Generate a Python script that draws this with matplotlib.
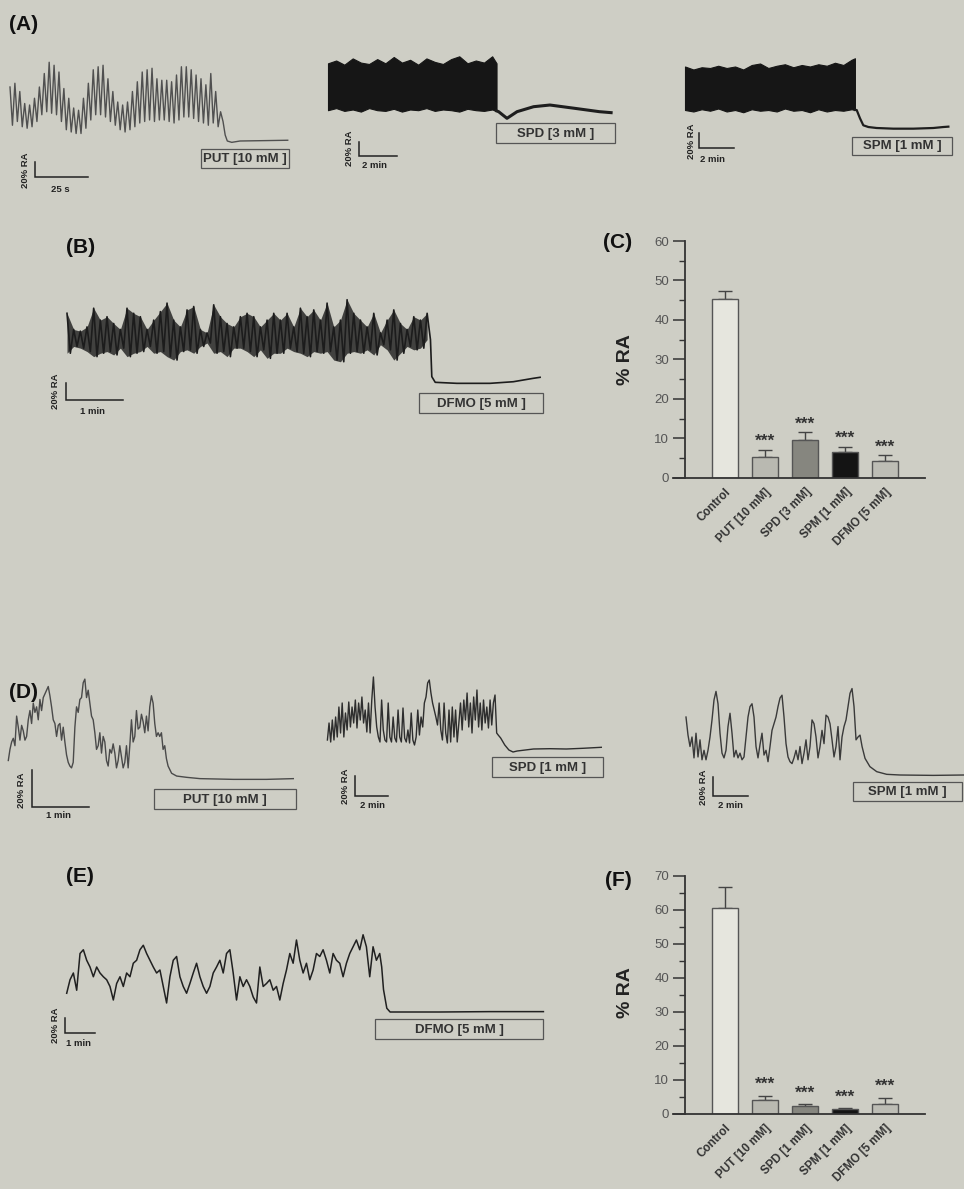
import numpy as np
import matplotlib
matplotlib.use('Agg')
import matplotlib.pyplot as plt
from matplotlib.patches import Rectangle

plt.rcParams['font.family'] = ['Liberation Sans', 'DejaVu Sans']

W, H = 964, 1189
BG = '#cecec5'

# ---------------- data ----------------
# (A) PUT 10 mM : oscillation peaks / troughs (% RA), one pair per cycle, 25 s scale
a1_step = 2.31  # s per cycle
a1_top = [72, 77, 66, 50, 48, 57, 72, 90, 105, 101, 92, 70, 57, 44, 41, 57, 77, 95, 99, 101,
          83, 66, 52, 48, 52, 66, 79, 92, 95, 97, 83, 81, 81, 79, 88, 99, 99, 95, 88, 83,
          75, 90, 66, 39]
a1_bot = [21, 26, 19, 17, 19, 26, 35, 39, 37, 35, 26, 15, 12, 10, 10, 17, 28, 35, 35, 32,
          26, 21, 15, 12, 15, 19, 24, 26, 28, 26, 28, 28, 26, 24, 28, 32, 32, 30, 26, 24,
          21, 24, 19, 26]
a1_tail_t = [101.5, 102.5, 104.6, 108.5, 120, 131]
a1_tail = [8, 0, -1.8, 0, 0.5, 1]

# (A) SPD 3 mM : envelope of the dense block (% RA), min
a2_env_t = [0, 0.43, 0.86, 1.30, 1.73, 2.16, 2.59, 3.02, 3.46, 3.89, 4.32, 4.75, 5.18,
            5.62, 6.05, 6.48, 6.91, 7.34, 7.78, 8.21, 8.64, 8.87]
a2_top = [71, 75, 69, 78, 72, 70, 77, 71, 80, 72, 76, 69, 78, 73, 70, 77, 81, 71, 75, 72, 81, 71]
a2_bot = [4, 7, 3, 5, 2, 7, 4, 3, 6, 2, 5, 4, 7, 3, 5, 4, 2, 6, 4, 3, 5, 3]
a2_tail_t = [8.98, 9.42, 9.95, 10.82, 11.68, 12.98, 14.28, 14.9]
a2_tail = [1.9, -7.6, 1.9, 9, 11.4, 6.7, 1.9, 0.5]

# (A) SPM 1 mM
a3_env_t = [0, 0.48, 0.95, 1.43, 1.90, 2.38, 2.86, 3.33, 3.81, 4.29, 4.76, 5.24, 5.71,
            6.19, 6.67, 7.14, 7.62, 8.10, 8.57, 9.05, 9.52, 9.71]
a3_top = [82, 78, 81, 80, 83, 80, 82, 78, 84, 86, 80, 83, 85, 81, 84, 82, 85, 83, 87, 84, 91, 93]
a3_bot = [24, 22, 25, 23, 26, 22, 24, 21, 25, 23, 24, 22, 26, 23, 24, 21, 25, 22, 24, 23, 25, 24]
a3_tail_t = [9.81, 10.0, 10.19, 10.48, 10.95, 11.9, 13.05, 14.19, 14.76, 15.05]
a3_tail = [24, 12.9, 3.6, 1.3, 0, -0.9, -0.9, 0, 1.3, 1.8]

# (B) DFMO 5 mM : spike tops / bottoms every 0.117 min
b_step = 0.117
b_top = [82, 63, 61, 66, 88, 74, 78, 70, 63, 88, 82, 78, 63, 74, 84, 94, 74, 66, 86, 90,
         63, 59, 92, 78, 70, 66, 78, 82, 78, 66, 74, 82, 74, 82, 66, 88, 78, 86, 74, 94,
         66, 74, 98, 82, 74, 66, 82, 59, 74, 86, 70, 63, 78, 74, 82]
b_bot = [35, 43, 41, 37, 31, 35, 37, 33, 41, 31, 35, 37, 43, 35, 37, 31, 27, 37, 39, 35,
         43, 47, 35, 37, 31, 41, 41, 37, 31, 39, 29, 35, 35, 41, 37, 35, 31, 37, 35, 37,
         27, 25, 35, 37, 35, 39, 33, 45, 39, 27, 35, 43, 39, 41, 51]
b_tail_t = [6.40, 6.46, 6.84, 7.42, 7.83, 8.18, 8.30]
b_tail = [7.5, 0.8, -0.4, -0.4, 1.5, 5.5, 6.7]

# (C) bar chart
cats_c = ['Control', 'PUT [10 mM]', 'SPD [3 mM]', 'SPM [1 mM]', 'DFMO [5 mM]']
mean_c = [45.3, 5.3, 9.5, 6.6, 4.3]
sem_c = [1.9, 1.7, 2.0, 1.2, 1.4]
sig_c = ['', '***', '***', '***', '***']

# (D) PUT 10 mM, samples every 0.0292 min
d1_step = 0.0292
d1 = [10, 16, 20, 22, 18, 34, 28, 21, 29, 26, 21, 23, 32, 37, 30, 41, 36, 39, 32, 43,
      37, 44, 46, 48, 50, 45, 39, 32, 30, 23, 29, 30, 21, 28, 20, 13, 9, 7, 6, 9,
      28, 39, 36, 43, 44, 52, 54, 44, 48, 41, 34, 32, 25, 16, 18, 25, 14, 23, 20, 10,
      7, 16, 14, 19, 14, 6, 10, 18, 12, 6, 9, 18, 6, 18, 32, 20, 23, 37, 27, 28,
      35, 31, 25, 34, 26, 39, 45, 41, 30, 23, 25, 23, 25, 16, 18, 11, 7]
d1_tail_t = [2.865, 2.953, 3.129, 3.363, 3.947, 4.532, 5.0]
d1_tail = [3.1, 1.6, 0.9, 0.2, -0.2, -0.2, 0.2]

# (D) SPD 1 mM, samples every 0.0996 min
d2_step = 0.0996
d2 = [9, 26, 7, 29, 9, 32, 12, 42, 16, 46, 12, 36, 19, 47, 22, 42, 26, 49, 21, 46,
      29, 52, 26, 39, 17, 46, 16, 49, 72, 42, 22, 12, 7, 49, 19, 9, 7, 46, 12, 7,
      32, 11, 7, 39, 12, 7, 41, 11, 7, 19, 6, 36, 9, 4, 12, 39, 14, 32, 22, 46,
      52, 66, 69, 56, 46, 39, 32, 24, 46, 19, 9, 46, 16, 6, 39, 7, 42, 12, 39, 7,
      26, 46, 19, 49, 29, 56, 22, 46, 16, 52, 29, 59, 22, 46, 19, 49, 26, 42, 21, 49,
      24, 46, 54, 16]
d2_tail_t = [10.35, 10.50, 10.75, 11.0, 11.25, 11.5, 12.49, 13.49, 14.48, 15.48, 16.6]
d2_tail = [14, 11, 4, -1, -3, -2, 0, 0.3, 0, 0.7, 1.7]

# (D) SPM 1 mM, samples every 0.1143 min
d3_step = 0.1143
d3 = [61, 42, 30, 40, 18, 44, 19, 37, 16, 26, 16, 26, 40, 58, 79, 88, 75, 44, 23, 18,
      26, 51, 65, 44, 19, 26, 18, 23, 16, 19, 40, 61, 72, 75, 61, 30, 18, 32, 44, 21,
      26, 14, 30, 47, 54, 61, 72, 81, 84, 61, 33, 19, 14, 12, 18, 26, 16, 30, 12, 23,
      37, 16, 30, 58, 54, 40, 18, 30, 47, 33, 63, 61, 54, 37, 19, 30, 51, 16, 40, 51,
      58, 72, 86, 91, 72, 37, 40, 42]
d3_tail_t = [10.06, 10.23, 10.51, 10.9, 11.47, 12.23, 14.13, 15.89]
d3_tail = [30, 17.5, 8.8, 3.5, 0.7, 0, -0.4, 0]

# (E) DFMO 5 mM, samples every 0.111 min
e_step = 0.111
e = [25, 43, 52, 29, 78, 83, 69, 60, 47, 60, 52, 47, 43, 34, 16, 38, 47, 34, 52, 47,
     65, 69, 83, 89, 78, 69, 60, 52, 56, 34, 12, 47, 69, 74, 47, 34, 25, 38, 52, 65,
     47, 34, 25, 34, 52, 60, 69, 52, 78, 83, 52, 16, 47, 34, 43, 34, 20, 12, 60, 34,
     38, 43, 29, 34, 16, 38, 56, 78, 65, 96, 69, 52, 65, 43, 56, 78, 74, 83, 69, 52,
     78, 69, 65, 47, 65, 78, 87, 96, 83, 103, 87, 47, 87, 69, 78]
e_tail_t = [10.5, 10.56, 10.67, 10.78, 11.33, 12.44, 14.11, 15.89]
e_tail = [60, 30, 5, 0, 0, 0, 0.5, 0.5]

# (F) bar chart
cats_f = ['Control', 'PUT [10 mM]', 'SPD [1 mM]', 'SPM [1 mM]', 'DFMO [5 mM]']
mean_f = [60.5, 4.2, 2.35, 1.5, 3.0]
sem_f = [6.4, 1.2, 0.45, 0.2, 1.8]
sig_f = ['', '***', '***', '***', '***']

bar_colors = ['#e6e6de', '#b9b9b1', '#86867f', '#141414', '#bdbdb5']

# ---------------- figure ----------------
fig = plt.figure(figsize=(W / 100, H / 100), dpi=100, facecolor=BG)


def fpos(x, y):
    return x / W, 1 - y / H


def trace_axes(box, x0, tpx, y0, rpx):
    l, t, r, b = box
    ax = fig.add_axes([l / W, 1 - b / H, (r - l) / W, (b - t) / H])
    ax.set_xlim((l - x0) / tpx, (r - x0) / tpx)
    ax.set_ylim((y0 - b) / rpx, (y0 - t) / rpx)
    ax.axis('off')
    ax.patch.set_alpha(0)
    return ax


def zigzag(t, top, bot, step):
    t = np.asarray(t, float)
    tz = np.column_stack([t, t + step / 2]).ravel()
    yz = np.column_stack([top, bot]).ravel()
    return tz, yz


def scale_bar(ax, corner, x0, tpx, y0, rpx, tlen, tlabel, lab_ra, lab_t, fs=6.8):
    tb = (corner[0] - x0) / tpx
    rb = (y0 - corner[1]) / rpx
    ax.plot([tb, tb, tb + tlen], [rb + 20, rb, rb], color='#222', lw=1.1,
            clip_on=False, solid_joinstyle='miter')
    fig.text(*fpos(*lab_ra), '20% RA', rotation=90, ha='center', va='center',
             fontsize=fs, fontweight='bold', color='#222')
    fig.text(*fpos(*lab_t), tlabel, ha='center', va='center',
             fontsize=fs, fontweight='bold', color='#222')


def drug_box(l, t, r, b, label, fs=9.5):
    fig.patches.append(Rectangle((l / W, 1 - b / H), (r - l) / W, (b - t) / H,
                                 transform=fig.transFigure, fill=False,
                                 ec='#555', lw=0.9))
    fig.text(*fpos((l + r) / 2, (t + b) / 2 + 0.5), label, ha='center', va='center',
             fontsize=fs, fontweight='bold', color='#333')


def panel_label(x, y, s):
    fig.text(*fpos(x, y), s, ha='left', va='center', fontsize=15,
             fontweight='bold', color='#111')


# ---- (A) PUT
m = (10, 2.12, 141, 0.75)
ax = trace_axes((5, 50, 300, 185), *m)
t_zz, y_zz = zigzag(np.arange(len(a1_top)) * a1_step, a1_top, a1_bot, a1_step)
ax.plot(np.r_[t_zz, a1_tail_t], np.r_[y_zz, a1_tail], color='#505050', lw=1.0,
        clip_on=False)
scale_bar(ax, (35, 177), *m, 25, '25 s', (25, 170), (60, 189))
drug_box(201, 149, 289, 168, 'PUT [10 mM ]')

# ---- (A) SPD 3 mM
m = (328, 19, 113, 0.7)
ax = trace_axes((320, 40, 620, 170), *m)
ax.fill_between(a2_env_t, a2_bot, a2_top, color='#161616', lw=0.8, ec='#161616')
ax.plot(np.r_[a2_env_t[-1], a2_tail_t], np.r_[a2_bot[-1], a2_tail], color='#1e1e1e',
        lw=2.2, clip_on=False)
scale_bar(ax, (359, 156), *m, 2, '2 min', (349, 148), (375, 165))
drug_box(496, 123, 615, 143, 'SPD [3 mM ]')

# ---- (A) SPM 1 mM
m = (685, 17.5, 128, 0.75)
ax = trace_axes((640, 40, 960, 170), *m)
ax.fill_between(a3_env_t, a3_bot, a3_top, color='#161616', lw=0.8, ec='#161616')
ax.plot(np.r_[a3_env_t[-1], a3_tail_t], np.r_[a3_bot[-1], a3_tail], color='#1e1e1e',
        lw=1.6, clip_on=False)
scale_bar(ax, (699, 148), *m, 2, '2 min', (691, 141), (713, 159))
drug_box(852, 137, 952, 155, 'SPM [1 mM ]')

# ---- (B) DFMO
m = (67, 57, 383, 0.85)
ax = trace_axes((50, 260, 560, 420), *m)
tb_ = np.arange(len(b_top)) * b_step
ax.fill_between(tb_, b_bot, b_top, color='#1e1e1e', alpha=0.8, lw=0)
t_zz, y_zz = zigzag(tb_, b_top, b_bot, b_step)
ax.plot(np.r_[t_zz, b_tail_t], np.r_[y_zz, b_tail], color='#1c1c1c', lw=1.2,
        clip_on=False)
scale_bar(ax, (66, 400), *m, 1, '1 min', (55, 391), (92, 412))
drug_box(419, 393, 543, 413, 'DFMO [5 mM ]')

# ---- (D) PUT
m = (8.3, 57, 779, 1.85)
ax = trace_axes((0, 670, 310, 830), *m)
td = np.arange(len(d1)) * d1_step
ax.plot(np.r_[td, d1_tail_t], np.r_[d1, d1_tail], color='#4a4a4a', lw=1.0, clip_on=False)
scale_bar(ax, (32, 807), *m, 1, '1 min', (22, 790), (58, 816))
drug_box(154, 789, 296, 809, 'PUT [10 mM ]')

# ---- (D) SPD 1 mM
m = (327.4, 16.5, 749, 1.0)
ax = trace_axes((320, 670, 620, 830), *m)
td = np.arange(len(d2)) * d2_step
ax.plot(np.r_[td, d2_tail_t], np.r_[d2, d2_tail], color='#2e2e2e', lw=1.0, clip_on=False)
scale_bar(ax, (355, 796), *m, 2, '2 min', (345.5, 786), (373, 805))
drug_box(492.5, 757, 603, 777, 'SPD [1 mM ]')

# ---- (D) SPM 1 mM
m = (686, 17.5, 775, 0.95)
ax = trace_axes((660, 670, 964, 830), *m)
td = np.arange(len(d3)) * d3_step
ax.plot(np.r_[td, d3_tail_t], np.r_[d3, d3_tail], color='#3a3a3a', lw=1.0, clip_on=False)
scale_bar(ax, (713, 796), *m, 2, '2 min', (704, 787), (730, 806))
drug_box(853, 782, 962, 801, 'SPM [1 mM ]')

# ---- (E) DFMO
m = (66.7, 30, 1012, 0.75)
ax = trace_axes((50, 900, 560, 1050), *m)
te = np.arange(len(e)) * e_step
ax.plot(np.r_[te, e_tail_t], np.r_[e, e_tail], color='#202020', lw=1.1, clip_on=False)
scale_bar(ax, (65, 1033), *m, 1, '1 min', (55, 1025), (79, 1043))
drug_box(375, 1019, 543, 1039, 'DFMO [5 mM ]')


# ---- bar charts
def bar_panel(box, ymax, cats, means, sems, sigs, star_off):
    l, t, r, b = box
    ax = fig.add_axes([l / W, 1 - b / H, (r - l) / W, (b - t) / H])
    ax.patch.set_alpha(0)
    x = np.arange(len(cats))
    ax.bar(x, means, width=0.65, color=bar_colors, edgecolor='#555', lw=1.0, zorder=3)
    ax.errorbar(x, means, yerr=[np.zeros(len(means)), sems], fmt='none', ecolor='#444',
                elinewidth=1.0, capsize=5, capthick=1.0, zorder=2)
    for xi, mv, sv, s in zip(x, means, sems, sigs):
        if s:
            ax.annotate(s, (xi, mv + sv), xytext=(0, star_off), textcoords='offset points',
                        ha='center', va='center', fontsize=12.5, fontweight='bold',
                        color='#333')
    ax.set_xlim(-1, 5)
    ax.set_ylim(0, ymax)
    ax.set_yticks(np.arange(0, ymax + 1, 10))
    ax.set_yticks(np.arange(5, ymax, 5), minor=True)
    for sp in ['top', 'right', 'bottom']:
        ax.spines[sp].set_visible(False)
    ax.spines['left'].set_linewidth(1.3)
    ax.spines['left'].set_color('#333')
    ax.plot([-1.3, 5], [0, 0], color='#333', lw=1.3, clip_on=False, zorder=4)
    ax.tick_params(axis='y', which='major', length=8.5, width=1.1, color='#333',
                   labelsize=9.5, labelcolor='#555', pad=3)
    ax.tick_params(axis='y', which='minor', length=4.3, width=1.0, color='#333')
    ax.set_xticks(x)
    ax.set_xticklabels(cats, rotation=45, ha='right', rotation_mode='anchor',
                       fontsize=8.5, fontweight='bold', color='#333')
    ax.tick_params(axis='x', length=0, pad=6)
    return ax


bar_panel((685, 241, 925, 477.7), 60, cats_c, mean_c, sem_c, sig_c, 6)
bar_panel((685, 876, 925, 1114), 70, cats_f, mean_f, sem_f, sig_f, 8)
for yy in (360, 993):
    fig.text(*fpos(625, yy), '% RA', rotation=90, ha='center', va='center',
             fontsize=14, fontweight='bold', color='#222')

panel_label(9, 25, '(A)')
panel_label(66, 248, '(B)')
panel_label(603, 242, '(C)')
panel_label(9, 692, '(D)')
panel_label(66, 877, '(E)')
panel_label(605, 880, '(F)')

fig.savefig('out.png', dpi=100, facecolor=BG)
